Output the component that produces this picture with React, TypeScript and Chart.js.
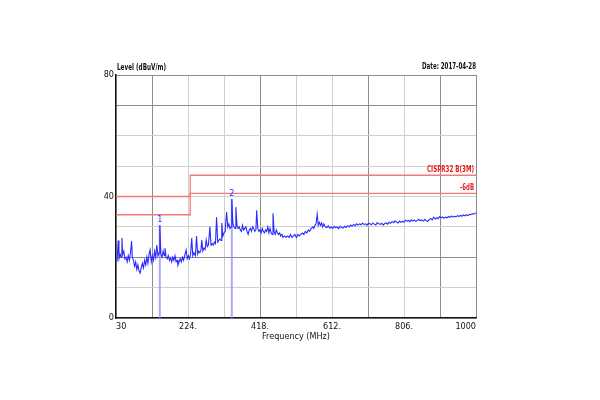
import React, { useEffect, useRef } from "react";
import { Chart, registerables } from "chart.js";

Chart.register(...registerables);

const FREQ = [
  30, 33, 36, 38, 41, 44, 46, 48, 51, 54,
  57, 60, 63, 66, 69, 72, 74, 77, 80, 83,
  86, 89, 92, 95, 98, 101, 104, 107, 110, 113,
  116, 119, 122, 125, 128, 131, 134, 137, 140, 143,
  146, 148, 151, 154, 157, 160, 162, 165, 168, 171,
  174, 177, 180, 183, 186, 189, 192, 195, 197, 200,
  203, 206, 209, 212, 215, 219, 222, 225, 228, 231,
  234, 237, 240, 244, 247, 250, 253, 256, 259, 261,
  264, 267, 270, 273, 276, 279, 283, 286, 289, 292,
  295, 298, 301, 304, 307, 310, 313, 315, 318, 321,
  324, 328, 331, 334, 337, 340, 342, 345, 348, 351,
  353, 356, 359, 362, 365, 368, 371, 374, 377, 380,
  383, 386, 389, 392, 395, 398, 401, 404, 407, 409,
  412, 415, 418, 421, 424, 427, 430, 433, 436, 439,
  442, 445, 448, 451, 453, 456, 459, 462, 465, 468,
  471, 474, 477, 480, 484, 488, 492, 496, 500, 504,
  508, 512, 516, 520, 524, 528, 532, 536, 540, 544,
  548, 552, 556, 560, 563, 566, 569, 572, 575, 578,
  581, 584, 587, 590, 594, 598, 602, 606, 610, 614,
  618, 622, 626, 630, 634, 638, 642, 646, 650, 654,
  658, 662, 666, 670, 674, 678, 682, 686, 690, 694,
  698, 702, 706, 710, 714, 718, 722, 726, 730, 734,
  738, 742, 746, 750, 754, 758, 762, 766, 770, 774,
  778, 782, 786, 790, 794, 798, 802, 806, 810, 814,
  818, 822, 826, 830, 834, 838, 842, 846, 850, 854,
  858, 862, 866, 870, 874, 878, 882, 886, 890, 894,
  898, 902, 906, 910, 914, 918, 922, 926, 930, 934,
  938, 942, 946, 950, 954, 958, 962, 966, 970, 974,
  978, 982, 986, 990, 994, 1000,
];

const LEVEL = [
  18.5, 19, 25.5, 19.5, 21, 20, 26.3, 21, 22, 19.5,
  20, 18.5, 20.5, 19, 21.5, 25.3, 20, 19, 17, 18.5,
  16, 17.5, 15.5, 14.8, 16.5, 18, 16.5, 19, 17.5, 20,
  18, 21, 22.4, 18.5, 20.5, 19, 22, 20, 24, 20.5,
  21.5, 30.5, 21, 20, 22, 20.5, 23, 20, 19.5, 20.5,
  19, 19.8, 18.5, 20, 19, 20.5, 18.5, 19, 17.4, 18.5,
  19.5, 18.5, 20, 19, 20.5, 22.4, 19.5, 20.5, 19.5, 21,
  26.3, 20.5, 21.5, 20.5, 27, 21, 22, 21.5, 22.5, 25.7,
  22, 23, 22.5, 25.7, 23.5, 24, 30, 24, 24.5, 24,
  25, 24.5, 33.2, 25, 25.5, 26, 25.5, 31.3, 27, 28,
  28.5, 34.9, 30, 31, 29.5, 30, 39.2, 31, 30, 29.5,
  36.5, 30.5, 29.5, 30, 29, 28.5, 30.5, 29, 29.5, 30,
  28.5, 27.5, 29, 29.5, 28.5, 30, 29.5, 28.5, 29, 35.5,
  29.5, 28.5, 29, 28, 29.5, 28.5, 28, 29, 28.5, 30,
  28, 29.5, 28, 27.5, 34.5, 28.5, 27.5, 29, 28, 27.5,
  28, 27, 27.5, 26.5, 27, 26.5, 27, 26.5, 27.5, 26.5,
  27, 27.5, 26.5, 27.5, 27, 27.5, 28, 27.5, 28.5, 28,
  29, 28.5, 29.5, 30, 29.5, 30.5, 31, 34.2, 30.5, 31.5,
  30.5, 31.3, 30, 31, 30, 29.8, 30.3, 29.6, 30, 29.5,
  30.2, 29.7, 30, 29.4, 30.2, 29.8, 29.6, 30.2, 29.8, 30.4,
  30, 30.6, 30.2, 30.8, 30.4, 31, 30.6, 31, 30.7, 31.2,
  30.8, 31, 30.5, 31.2, 31, 30.7, 31.3, 30.9, 30.6, 31.4,
  31, 30.8, 31.2, 30.6, 31.1, 31.3, 30.9, 31.5, 31.2, 31.8,
  31.4, 32, 31.6, 31.3, 31.9, 31.5, 31.8, 31.6, 32.2, 31.8,
  32.1, 31.7, 32.3, 31.9, 32.3, 31.8, 32.1, 32.5, 32, 32.3,
  31.9, 32.4, 32, 31.8, 32.4, 32.8, 32.3, 33.2, 32.6, 33,
  32.7, 33.4, 33, 33.3, 32.8, 33.2, 33, 33.4, 33.1, 33.6,
  33.2, 33.5, 33.3, 33.7, 33.4, 33.8, 33.5, 33.9, 33.6, 34,
  33.7, 34.1, 34, 34.3, 34.2, 34.6,
];

// Limit line (CISPR32 B 3m): breakpoints and levels
const LIMIT_FREQ = [30, 230, 1000];
const LIMIT_LEVEL = [40, 47];
const MARGIN_DB = 6;

// Markers
const MARKER_LABELS = ["1", "2"];
const MARKER_FREQ = [148, 342];
const MARKER_LEVEL = [30.5, 39.2];

const X_TICK_LABELS = ["30", "", "224.", "", "418.", "", "612.", "", "806.", "", "1000"];
const Y_TICK_LABELS: Record<number, string> = { 0: "0", 40: "40", 80: "80" };

const FONT =
  "'Liberation Sans Narrow', 'DejaVu Sans Condensed', 'Arial Narrow', 'Liberation Sans', Arial, sans-serif";

function stepLine(offset: number) {
  return [
    { x: LIMIT_FREQ[0], y: LIMIT_LEVEL[0] - offset },
    { x: LIMIT_FREQ[1], y: LIMIT_LEVEL[0] - offset },
    { x: LIMIT_FREQ[1], y: LIMIT_LEVEL[1] - offset },
    { x: LIMIT_FREQ[2], y: LIMIT_LEVEL[1] - offset },
  ];
}

const X_DARK = [1, 4, 7, 9, 10];
const Y_DARK = [2, 7, 8];

function fitText(ctx: any, text: string, x: number, y: number, align: string, target: number) {
  const w = ctx.measureText(text).width;
  const sx = w > target ? target / w : 1;
  ctx.save();
  ctx.translate(x, y);
  ctx.scale(sx, 1);
  ctx.textAlign = align;
  ctx.fillText(text, 0, 0);
  ctx.restore();
}

const textPlugin = {
  id: "emcText",
  afterDraw(chart: any) {
    const ctx = chart.ctx;
    const xs = chart.scales.x;
    const ys = chart.scales.y;
    const area = chart.chartArea;
    ctx.save();
    ctx.font = `bold 9px ${FONT}`;
    ctx.fillStyle = "#111";
    ctx.textBaseline = "alphabetic";
    fitText(ctx, "Level (dBuV/m)", area.left + 1, area.top - 5, "left", 49);
    fitText(ctx, "Date: 2017-04-28", area.right, area.top - 6, "right", 54);

    ctx.fillStyle = "#e41e1e";
    fitText(ctx, "CISPR32 B(3M)", area.right - 2, ys.getPixelForValue(LIMIT_LEVEL[1]) - 3, "right", 47);
    fitText(ctx, `-${MARGIN_DB}dB`, area.right - 2, ys.getPixelForValue(LIMIT_LEVEL[1] - MARGIN_DB) - 3, "right", 14);

    ctx.font = `9px ${FONT}`;
    ctx.fillStyle = "#3333ff";
    for (let i = 0; i < MARKER_FREQ.length; i++) {
      fitText(
        ctx,
        MARKER_LABELS[i],
        xs.getPixelForValue(MARKER_FREQ[i]),
        ys.getPixelForValue(MARKER_LEVEL[i]) - 3,
        "center",
        10
      );
    }
    ctx.restore();
  },
};

export default function App() {
  const ref = useRef<HTMLCanvasElement | null>(null);

  useEffect(() => {
    if (!ref.current) return;
    const traceData = FREQ.map((f, i) => ({ x: f, y: LEVEL[i] }));
    const markerSets = MARKER_FREQ.map((f, i) => ({
      label: "marker" + MARKER_LABELS[i],
      data: [
        { x: f, y: MARKER_LEVEL[i] },
        { x: f, y: 0 },
      ],
      borderColor: "rgba(140,140,255,0.75)",
      borderWidth: 2,
      pointRadius: 0,
      order: 3,
    }));

    const chart = new Chart(ref.current, {
      type: "line",
      data: {
        datasets: [
          {
            label: "trace",
            data: traceData,
            borderColor: "#2b2bff",
            borderWidth: 1.1,
            pointRadius: 0,
            tension: 0,
            order: 1,
          },
          {
            label: "limit",
            data: stepLine(0),
            borderColor: "#f07a7a",
            borderWidth: 1.3,
            pointRadius: 0,
            order: 2,
          },
          {
            label: "margin",
            data: stepLine(MARGIN_DB),
            borderColor: "#f07a7a",
            borderWidth: 1.3,
            pointRadius: 0,
            order: 2,
          },
          ...markerSets,
        ],
      },
      options: {
        animation: false,
        responsive: false,
        maintainAspectRatio: false,
        layout: { padding: { left: 0, top: 75, right: 124, bottom: 58 } },
        plugins: {
          legend: { display: false },
          tooltip: { enabled: false },
          title: { display: false },
        },
        scales: {
          x: {
            type: "linear",
            min: 30,
            max: 1000,
            afterFit: (s: any) => {
              s.height = 24;
            },
            ticks: {
              stepSize: 97,
              autoSkip: false,
              maxRotation: 0,
              align: "inner",
              padding: 3,
              color: "#111",
              font: { family: FONT, size: 9 },
              callback: (_v: any, i: number) => X_TICK_LABELS[i] ?? "",
            },
            grid: {
              drawTicks: false,
              color: (c: any) => (X_DARK.includes(c.index) ? "#8c8c8c" : "#cfcfcf"),
              lineWidth: 1,
            },
            border: { color: "#111", width: 1.5 },
            title: {
              display: true,
              text: "Frequency (MHz)",
              color: "#111",
              font: { family: FONT, size: 9 },
              padding: { top: 0, bottom: 0 },
            },
          },
          y: {
            type: "linear",
            min: 0,
            max: 80,
            afterFit: (s: any) => {
              s.width = 116;
            },
            ticks: {
              stepSize: 10,
              autoSkip: false,
              padding: 2,
              color: "#111",
              font: { family: FONT, size: 9 },
              callback: (v: any) => Y_TICK_LABELS[v as number] ?? "",
            },
            grid: {
              drawTicks: false,
              color: (c: any) => (Y_DARK.includes(c.index) ? "#8c8c8c" : "#cfcfcf"),
              lineWidth: 1,
            },
            border: { color: "#111", width: 1.5 },
          },
        },
      },
      plugins: [textPlugin],
    });
    return () => chart.destroy();
  }, []);

  return (
    <div style={{ position: "absolute", left: 0, top: 0, width: 600, height: 400, background: "#fff" }}>
      <canvas ref={ref} width={600} height={400} style={{ width: 600, height: 400 }} />
    </div>
  );
}
